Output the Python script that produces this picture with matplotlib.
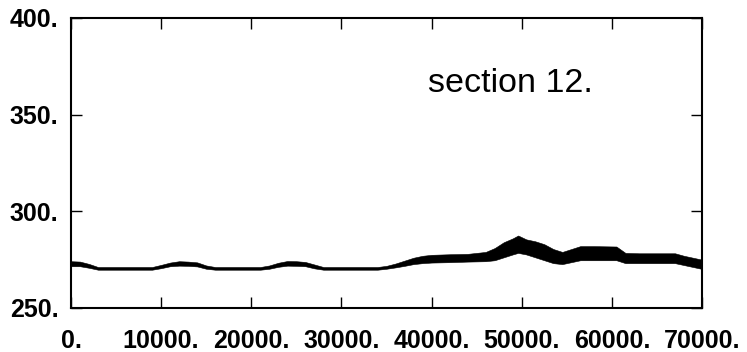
import matplotlib
matplotlib.use("Agg")
import matplotlib.pyplot as plt

# Envelope of the noisy trace
x_pos = [0, 1000, 2000, 3000, 5000, 9000, 10000, 11000, 12000, 13000, 14000,
         15000, 16000, 21000, 22000, 23000, 24000, 25000, 26000, 27000, 28000,
         34000, 35000, 36000, 37000, 38000, 39000, 40000, 42000, 44000, 46000,
         47000, 48000, 49000, 49600, 50500, 51500, 52500, 53500, 54500, 55500,
         56500, 58000, 60500, 61500, 63000, 67000, 68000, 69000, 70000]
upper = [274.2, 274.0, 272.8, 271.2, 271.2, 271.2, 272.3, 273.5, 274.2, 274.0, 273.6,
         272.0, 271.2, 271.2, 272.0, 273.4, 274.3, 274.2, 273.8, 272.5, 271.2,
         271.2, 271.8, 273.0, 274.5, 276.0, 277.0, 277.5, 277.8, 278.0, 279.0,
         281.0, 284.0, 286.0, 287.5, 285.5, 284.5, 283.0, 280.5, 279.0, 280.5,
         282.0, 282.0, 281.8, 278.5, 278.3, 278.3, 277.0, 276.0, 275.0]
lower = [271.6, 271.6, 270.8, 269.8, 269.8, 269.8, 270.6, 271.6, 271.9, 271.8, 271.5,
         270.3, 269.8, 269.8, 270.3, 271.3, 271.9, 271.8, 271.6, 270.5, 269.8,
         269.8, 270.3, 271.0, 271.8, 272.7, 273.2, 273.5, 273.7, 274.0, 274.2,
         274.7, 276.2, 277.7, 278.5, 277.7, 276.2, 274.7, 273.2, 272.7, 273.7,
         274.7, 274.7, 274.7, 273.2, 273.2, 273.2, 272.2, 271.2, 270.2]

x_ticks = [0, 10000, 20000, 30000, 40000, 50000, 60000, 70000]
x_labels = ["0.", "10000.", "20000.", "30000.", "40000.", "50000.", "60000.", "70000."]
y_ticks = [250, 300, 350, 400]
y_labels = ["250.", "300.", "350.", "400."]
annotation = "section 12."

plt.rcParams['font.family'] = ['Liberation Sans', 'DejaVu Sans']

fig = plt.figure(figsize=(7.47, 3.52), dpi=100)
ax = fig.add_axes([0.0950, 0.125, 0.9398 - 0.0950, 0.9489 - 0.125])

ax.fill_between(x_pos, lower, upper, color="black", linewidth=0.4, edgecolor="black")

ax.set_xlim(0, 70000)
ax.set_ylim(250, 400)
ax.set_xticks(x_ticks)
ax.set_xticklabels(x_labels, fontweight="bold")
ax.set_yticks(y_ticks)
ax.set_yticklabels(y_labels, fontweight="bold")

ax.tick_params(direction="in", length=8, width=1.0, top=True, right=True,
               labelsize=18, colors="black")
ax.tick_params(axis="x", pad=15)
ax.tick_params(axis="y", pad=9)
for sp in ax.spines.values():
    sp.set_linewidth(1.5)
    sp.set_color("black")

ax.text(39600, 361.7, annotation, fontsize=24.5, ha="left", va="baseline", color="black")

fig.savefig("out.png", dpi=100)
